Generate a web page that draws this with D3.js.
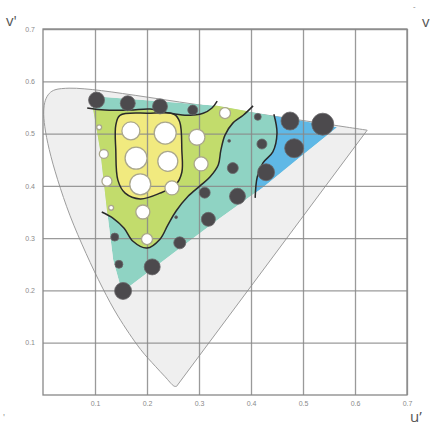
<!DOCTYPE html>
<html>
<head>
<meta charset="utf-8">
<script src="https://cdnjs.cloudflare.com/ajax/libs/d3/7.8.5/d3.min.js"></script>
<style>
body{margin:0;background:#fff;}
svg{display:block;font-family:"Open Sans",sans-serif;}
</style>
</head>
<body>
<div id="DrawingBoard"></div>
<script>
var width=430,height=428;

//刻度
var xTicks=[0.1,0.2,0.3,0.4,0.5,0.6,0.7],
    yTicks=[0.1,0.2,0.3,0.4,0.5,0.6,0.7],
    tickLabels=["0.1","0.2","0.3","0.4","0.5","0.6","0.7"];

//光谱轨迹 u'v' (380nm -> 700nm)
var locus=[[0.2568,0.0165],[0.2522,0.0169],[0.2347,0.0350],[0.2161,0.0549],[0.1877,0.0871],
    [0.1441,0.1510],[0.1147,0.2044],[0.0828,0.2708],[0.0521,0.3427],[0.0282,0.4117],
    [0.0119,0.4698],[0.0035,0.5131],[0.0014,0.5432],[0.0046,0.5638],[0.0123,0.5770],
    [0.0231,0.5837],[0.0501,0.5868],[0.0792,0.5856],[0.1127,0.5821],[0.1531,0.5766],
    [0.2026,0.5694],[0.2623,0.5604],[0.3315,0.5501],[0.4035,0.5393],[0.5203,0.5219],
    [0.5830,0.5125],[0.6234,0.5065]];

//样本覆盖区域
var hull=[[0.092,0.572],[0.335,0.553],[0.565,0.512],[0.494,0.455],[0.421,0.396],
    [0.340,0.338],[0.258,0.277],[0.152,0.197],[0.135,0.258],[0.123,0.354],[0.110,0.468]];

//等值线
var blueEdge=[[0.444,0.537],[0.450,0.501],[0.442,0.465],[0.423,0.444],[0.412,0.417],[0.408,0.377]];
var greenTop=[[0.085,0.549],[0.119,0.545],[0.167,0.545],[0.206,0.547],[0.235,0.541],
    [0.273,0.535],[0.308,0.539],[0.325,0.549],[0.335,0.562]];
var greenEdge=[[0.404,0.553],[0.385,0.535],[0.365,0.520],[0.350,0.497],[0.342,0.468],
    [0.337,0.440],[0.321,0.417],[0.302,0.400],[0.279,0.380],[0.256,0.352],[0.240,0.325],
    [0.225,0.298],[0.200,0.281],[0.173,0.294],[0.156,0.319],[0.135,0.338],[0.113,0.350]];
var yellowEdge=[[0.148,0.535],[0.202,0.539],[0.252,0.537],[0.263,0.522],[0.267,0.468],
    [0.267,0.426],[0.256,0.403],[0.225,0.386],[0.187,0.375],[0.158,0.386],[0.144,0.411],
    [0.140,0.468],[0.140,0.516]];

//样本点 [u', v', 权重]
var darkPts=[[0.103,0.564,64],[0.163,0.558,56],[0.225,0.552,56],[0.288,0.545,25],
    [0.413,0.532,12],[0.475,0.524,81],[0.538,0.518,121],[0.483,0.472,90],[0.421,0.480,25],
    [0.429,0.426,72],[0.374,0.380,64],[0.311,0.387,30],[0.318,0.336,49],[0.263,0.291,36],
    [0.210,0.245,64],[0.146,0.250,16],[0.154,0.199,72],[0.138,0.302,16],[0.256,0.340,2],
    [0.358,0.486,2],[0.365,0.434,30]];
var lightPts=[[0.169,0.505,81],[0.235,0.501,121],[0.179,0.453,121],[0.240,0.447,100],
    [0.187,0.403,110],[0.296,0.493,64],[0.304,0.442,49],[0.248,0.396,49],[0.192,0.350,49],
    [0.117,0.461,20],[0.123,0.409,25],[0.108,0.512,6],[0.131,0.358,6],[0.200,0.298,30],
    [0.350,0.539,30]];

var svg=d3.select('#DrawingBoard')
    .append('svg')
    .attr('width',width)
    .attr('height',height);

var sx=d3.scaleLinear().domain([0,0.7]).range([43,407]),
    sy=d3.scaleLinear().domain([0,0.7]).range([395,29]),
    sr=d3.scaleSqrt().domain([0,100]).range([0,10]);

var smooth=d3.line().x(function(d){return sx(d[0]);}).y(function(d){return sy(d[1]);})
        .curve(d3.curveCatmullRom.alpha(0.5)),
    straight=d3.line().x(function(d){return sx(d[0]);}).y(function(d){return sy(d[1]);}),
    loop=d3.line().x(function(d){return sx(d[0]);}).y(function(d){return sy(d[1]);})
        .curve(d3.curveCatmullRomClosed.alpha(0.5));

//色域马蹄形
svg.append('path')
    .attr('d',smooth(locus)+'Z')
    .attr('fill','#efefef')
    .attr('stroke','#9d9d9d')
    .attr('stroke-width',1);

//色块
svg.append('clipPath').attr('id','hullClip')
    .append('path').attr('d',straight(hull)+'Z');
var zone=svg.append('g').attr('clip-path','url(#hullClip)');

zone.append('path')
    .attr('d',straight(hull)+'Z')
    .attr('fill','#8fd3c3');

var last=blueEdge[blueEdge.length-1];
zone.append('path')
    .attr('d',smooth(blueEdge)+straight([last,[0.7,last[1]],[0.7,0.62],[blueEdge[0][0],0.62]]).replace('M','L')+'Z')
    .attr('fill','#5fb8e6');

zone.append('path')
    .attr('d',smooth(greenTop)+smooth(greenEdge).replace('M','L')+'Z')
    .attr('fill','#c2dc6c');

zone.append('path')
    .attr('d',loop(yellowEdge))
    .attr('fill','#f1ea7f');

//网格与坐标轴
var x_axis=d3.axisBottom(sx).tickValues(xTicks).tickSize(-(sy(0)-sy(0.7))).tickPadding(6)
        .tickFormat(function(d,i){return tickLabels[i];}),
    y_axis=d3.axisLeft(sy).tickValues(yTicks).tickSize(-(sx(0.7)-sx(0))).tickPadding(8)
        .tickFormat(function(d,i){return tickLabels[i];});

var gx=svg.append('g').attr('transform','translate(0,'+sy(0)+')').call(x_axis);
var gy=svg.append('g').attr('transform','translate('+sx(0)+',0)').call(y_axis);
[gx,gy].forEach(function(g){
    g.select('.domain').remove();
    g.selectAll('line').attr('stroke','#888').attr('stroke-width',1.3).attr('stroke-opacity',0.85);
    g.selectAll('text').attr('fill','#8a8a8a').style('font-size','7px');
});
svg.append('rect')
    .attr('x',sx(0)).attr('y',sy(0.7))
    .attr('width',sx(0.7)-sx(0)).attr('height',sy(0)-sy(0.7))
    .attr('fill','none').attr('stroke','#888').attr('stroke-width',1.3);

//等值线
var lines=svg.append('g').attr('fill','none').attr('stroke','#2a2a2a').attr('stroke-width',1.5);
lines.append('path').attr('d',smooth(blueEdge));
lines.append('path').attr('d',smooth(greenTop));
lines.append('path').attr('d',smooth(greenEdge));
lines.append('path').attr('d',loop(yellowEdge));

//样本点
svg.append('g').selectAll('circle').data(darkPts).enter()
    .append('circle')
    .attr('cx',function(d){return sx(d[0]);})
    .attr('cy',function(d){return sy(d[1]);})
    .attr('r',function(d){return sr(d[2]);})
    .attr('fill','#4c4a4d')
    .attr('stroke','#6a686b')
    .attr('stroke-width',0.8);

svg.append('g').selectAll('circle').data(lightPts).enter()
    .append('circle')
    .attr('cx',function(d){return sx(d[0]);})
    .attr('cy',function(d){return sy(d[1]);})
    .attr('r',function(d){return sr(d[2]);})
    .attr('fill','#fff')
    .attr('stroke','#aaa78c')
    .attr('stroke-width',1.3);

//坐标轴名称
svg.append('text').attr('x',6).attr('y',26).text("v'")
    .attr('fill','#555').style('font-size','15px');
svg.append('text').attr('x',410).attr('y',422).text("u’")
    .attr('fill','#555').style('font-size','15px');
svg.append('text').attr('x',422).attr('y',27).text("v")
    .attr('fill','#555').style('font-size','15px');
svg.append('text').attr('x',413).attr('y',9).text("-")
    .attr('fill','#777').style('font-size','8px');
svg.append('text').attr('x',3).attr('y',421).text("'")
    .attr('fill','#888').style('font-size','9px');
</script>
</body>
</html>
